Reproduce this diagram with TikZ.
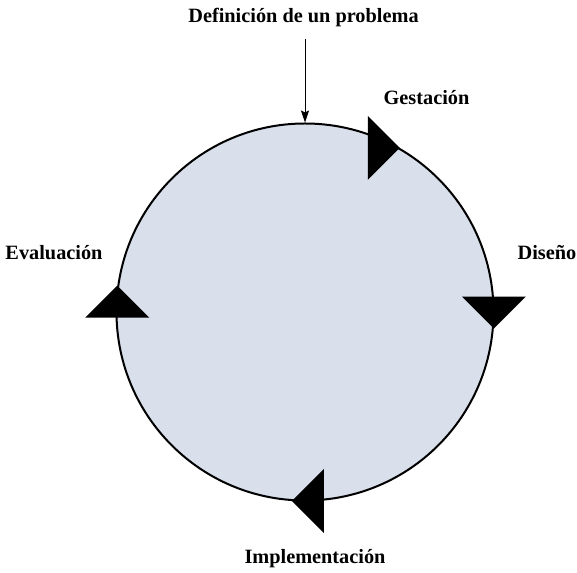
\documentclass[tikz,border=0pt]{standalone}
\usepackage{fontspec}
\setmainfont{Liberation Serif}
\usetikzlibrary{arrows.meta, positioning}

\definecolor{ciclofill}{RGB}{217,223,235}

\begin{document}
\begin{tikzpicture}[
    x=1pt, y=1pt,
    etiqueta/.style={anchor=base, font=\fontsize{20.3}{24}\selectfont\bfseries},
    ciclo/.style={circle, draw, line width=2pt, fill=ciclofill, minimum size=377pt, inner sep=0pt},
    flecha/.style={-{Stealth[length=12pt, width=8pt, inset=2pt]}, line width=0.8pt}
  ]
  \useasboundingbox (0,0) rectangle (577,572);

%% the cycle itself, with the four stages round it
  \node[ciclo] (ciclo) at (305,260) {};

  \node[etiqueta] (def)  at (303.5,549) {Definición de un problema};
  \node[etiqueta] (gest) at (426.5,467) {Gestación};
  \node[etiqueta] (dis)  at (547,312) {Diseño};
  \node[etiqueta] (eval) at (54,312) {Evaluación};
  \node[etiqueta] (impl) at (315,9) {Implementación};

%% the problem enters the cycle from the top
  \draw[flecha, shorten <=8pt] (ciclo.north |- def.south) -- (ciclo.north);

%% direction marks: angle on the circle / direction they point to
  \foreach \a/\r in {60/0, -5/-90, -94/180, 172/90}
    \fill (ciclo.\a) -- ++(\r+135:45.25) -- ++(\r-90:64) -- cycle;

\end{tikzpicture}
\end{document}
